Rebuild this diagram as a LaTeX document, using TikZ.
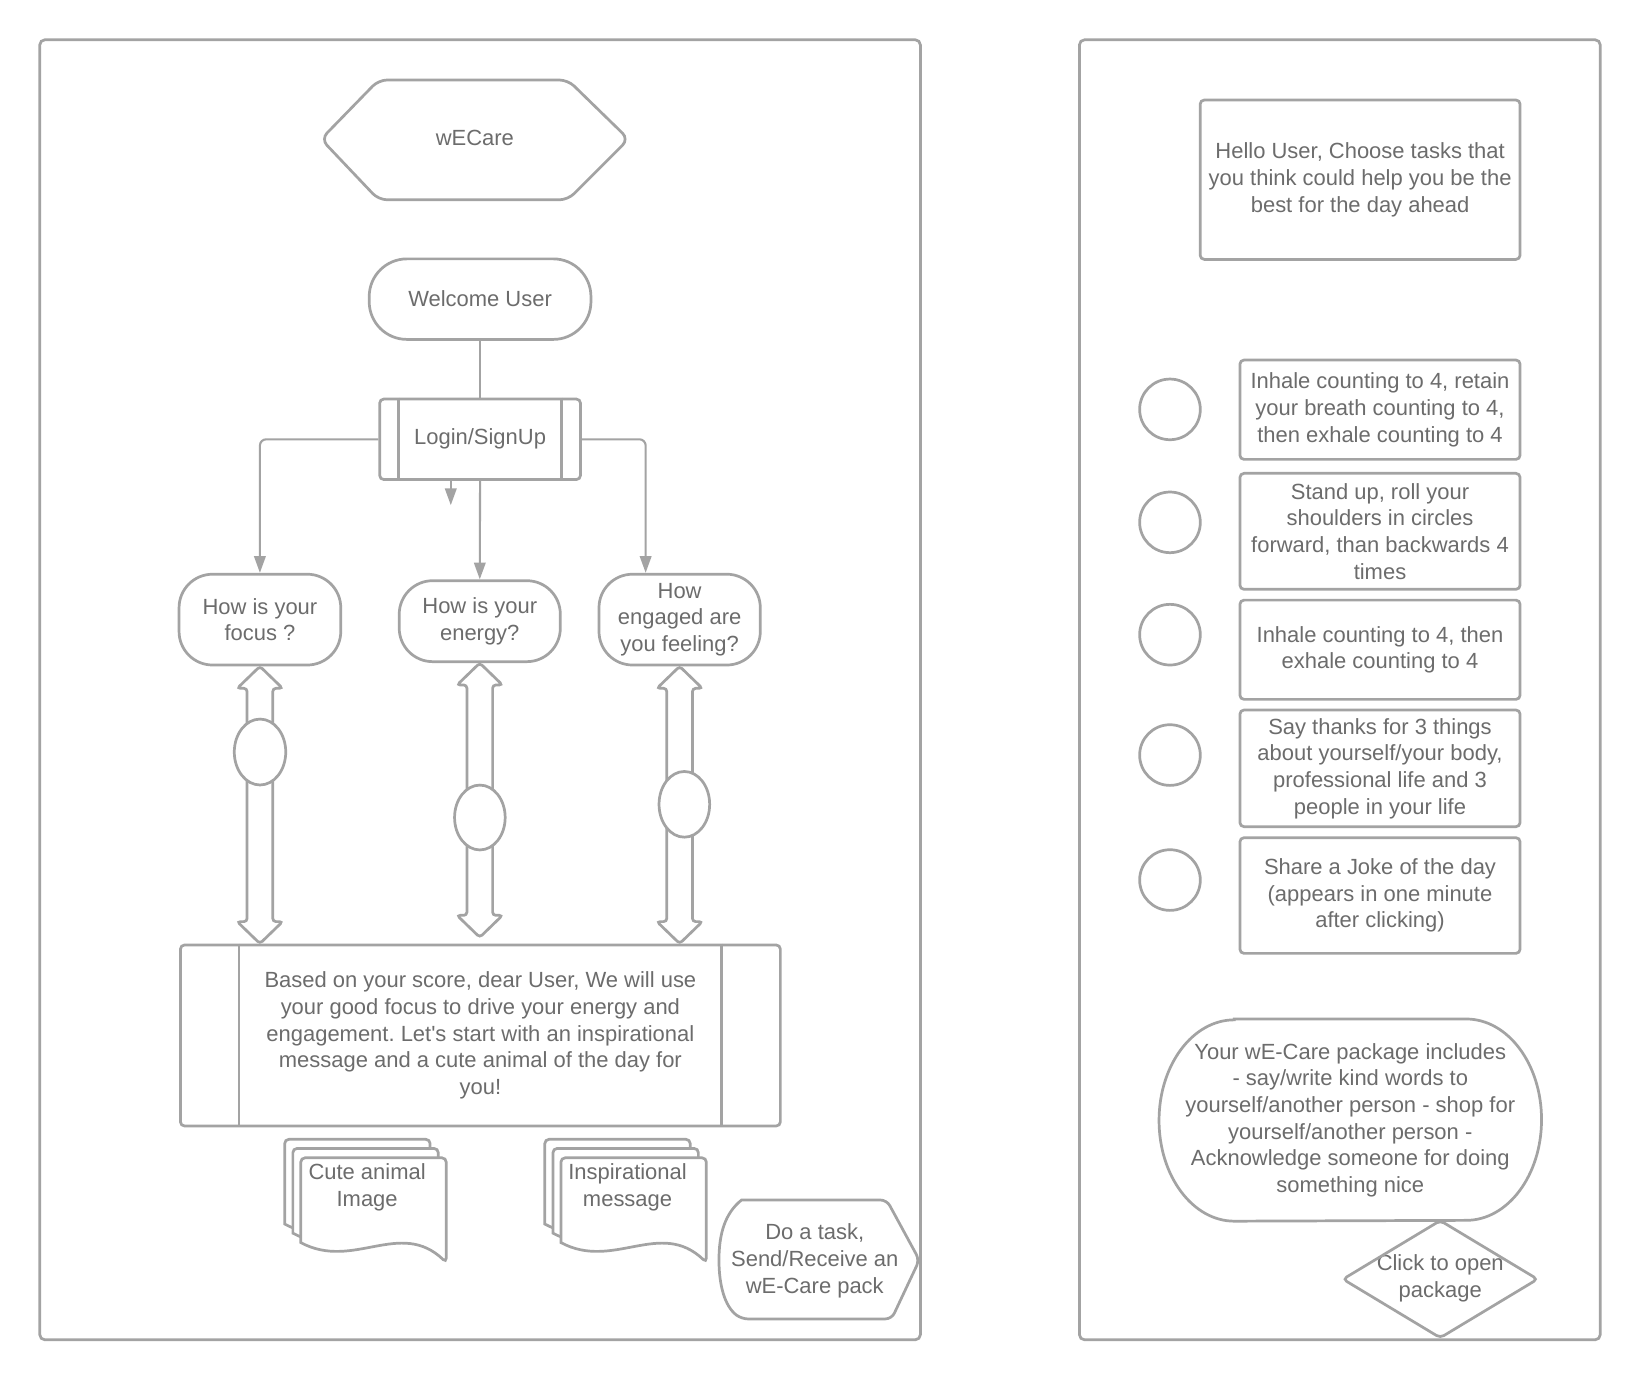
\documentclass[tikz,border=0pt]{standalone}
\usepackage{fontspec}
\setmainfont{Liberation Sans}
\usetikzlibrary{arrows.meta,calc,shapes.geometric}
\definecolor{lgray}{RGB}{163,163,163}
\definecolor{tgray}{RGB}{108,108,108}
\frenchspacing
\tikzset{
  shp/.style={draw=lgray, line width=1.3pt, fill=white},
  shpnf/.style={draw=lgray, line width=1.3pt},
  conn/.style={draw=lgray, line width=1pt, -{Triangle[length=8pt,width=5.5pt]}},
  plainline/.style={draw=lgray, line width=1pt},
  txt/.style={text=tgray, font=\fontsize{10.5}{12.75}\selectfont, align=center, inner sep=0pt},
  box/.style={shp, txt, rounded corners=2pt},
}
\newcommand\dbarrow[2]{%
  \draw[shp, rounded corners=1.5pt] let \p1=(#1), \p2=(#2) in
  (\x1,\y1) -- ({\x1+10.85pt},{\y1-10.5pt}) -- ({\x1+6.15pt},{\y1-10.5pt})
  -- ({\x1+6.15pt},{\y2+10.5pt}) -- ({\x1+10.85pt},{\y2+10.5pt}) -- (\x1,\y2)
  -- ({\x1-10.85pt},{\y2+10.5pt}) -- ({\x1-6.15pt},{\y2+10.5pt})
  -- ({\x1-6.15pt},{\y1-10.5pt}) -- ({\x1-10.85pt},{\y1-10.5pt}) -- cycle;}
\newcommand\docshape[2]{%
  \draw[shp, rounded corners=2pt] ({#1},{#2+81}) -- ({#1},{#2}) -- ({#1+139},{#2})
  -- ({#1+139},{#2+100}) [sharp corners] .. controls ({#1+95},{#2+58}) and ({#1+50},{#2+108}) .. ({#1},{#2+81}) -- cycle;}
\begin{document}
\begin{tikzpicture}[x=0.5pt,y=-0.5pt]
\useasboundingbox (0,0) rectangle (1568,1319);
\fill[white] (0,0) rectangle (1568,1319);

% panels
\node[shp, rounded corners=2.5pt, minimum width=421pt, minimum height=621.5pt, inner sep=0pt] (lpanel) at (459,659.5) {};
\node[shp, rounded corners=2.5pt, minimum width=249pt, minimum height=621.5pt, inner sep=0pt] (rpanel) at (1281,659.5) {};

% title hexagon
\node[txt] (brand) at (454,132) {wECare};
\draw[shpnf, rounded corners=4pt] (307,133) -- (362,76.5) -- (543,76.5) -- (601,133) -- (543,191) -- (362,191) -- cycle;

% welcome and login
\node[box, rounded corners=18pt, minimum width=106pt, minimum height=38.5pt] (welcome) at (459,286) {Welcome User};
\node[box, minimum width=96pt, minimum height=38.5pt] (login) at (459,420) {Login/SignUp};
\draw[shpnf] ([xshift=9.6pt]login.north west) -- ([xshift=9.6pt]login.south west);
\draw[shpnf] ([xshift=-9.6pt]login.north east) -- ([xshift=-9.6pt]login.south east);
\draw[plainline] (welcome) -- (login);

% questions
\node[box, rounded corners=16pt, minimum width=77.3pt, minimum height=43.4pt] (focus) at (248.5,592.4) {How is your\\focus ?};
\node[box, rounded corners=16pt, minimum width=77pt, minimum height=38.7pt] (energy) at (458.7,593.9) {How is your\\energy?};
\node[box, rounded corners=16pt, minimum width=77.1pt, minimum height=43.4pt] (engaged) at (649.8,592.4) {How\\engaged are\\you feeling?};

\draw[conn, rounded corners=3pt] (login.west) -| (focus.north);
\draw[conn, rounded corners=3pt] (login.east) -| ($(engaged.north)+(-32.5,0)$);
\draw[conn] (login.south) -- (energy.north);
\coordinate (strayend) at (431,483);
\draw[conn] (login.south -| strayend) -- (strayend);

% score box
\node[box, minimum width=286.8pt, minimum height=86.55pt] (score) at (459.3,990) {Based on your score, dear User, We will use\\your good focus to drive your energy and\\engagement. Let\textquotesingle s start with an inspirational\\message and a cute animal of the day for\\you!};
\draw[shpnf] ([xshift=28.7pt]score.north west) -- ([xshift=28.7pt]score.south west);
\draw[shpnf] ([xshift=-28.7pt]score.north east) -- ([xshift=-28.7pt]score.south east);

% double arrows with sliders
\dbarrow{focus.south}{score.north -| focus.south}
\dbarrow{energy.south}{$(score.north -| energy.south)+(0,-6)$}
\dbarrow{engaged.south}{score.north -| engaged.south}
\node[shp, ellipse, minimum width=24.6pt, minimum height=31.5pt, inner sep=0pt] (dot1) at (248.6,719) {};
\node[shp, ellipse, minimum width=24.2pt, minimum height=31pt, inner sep=0pt] (dot2) at (458.8,781.6) {};
\node[shp, ellipse, minimum width=24.2pt, minimum height=31.4pt, inner sep=0pt] (dot3) at (654.3,769) {};

% documents
\docshape{272.2}{1089.3}
\docshape{280}{1098}
\docshape{287.6}{1107}
\node[txt] (cute) at (351,1135) {Cute animal\\Image};
\docshape{520.9}{1089.3}
\docshape{528.7}{1098}
\docshape{536.3}{1107}
\node[txt] (inspire) at (600,1135) {Inspirational\\message};

% do a task display shape
\node[txt] (task) at (779,1205.5) {Do a task,\\Send/Receive an\\wE-Care pack};
\draw[shpnf, rounded corners=3pt] (709,1147.3) -- (847.8,1147.3) -- (879,1204.7) -- (852.5,1261) -- (709,1261)
  [sharp corners] .. controls (693,1249) and (687.4,1229) .. (687.4,1204.7)
  .. controls (687.4,1180) and (693,1160) .. (709,1147.3) -- cycle;

% right panel
\node[box, minimum width=152.95pt, minimum height=76.2pt] (hello) at (1300.4,171.8) {Hello User, Choose tasks that\\you think could help you be the\\best for the day ahead};

\node[box, minimum width=133.95pt, minimum height=47.5pt] (t1) at (1319.4,391.7) {Inhale counting to 4, retain\\your breath counting to 4,\\then exhale counting to 4};
\node[box, minimum width=133.95pt, minimum height=55.45pt] (t2) at (1319.4,508) {Stand up, roll your\\shoulders in circles\\forward, than backwards 4\\times};
\node[box, minimum width=133.95pt, minimum height=47.45pt] (t3) at (1319.4,621.2) {Inhale counting to 4, then\\exhale counting to 4};
\node[box, minimum width=133.95pt, minimum height=55.8pt] (t4) at (1319.4,734.6) {Say thanks for 3 things\\about yourself/your body,\\professional life and 3\\people in your life};
\node[box, minimum width=133.95pt, minimum height=55.3pt] (t5) at (1319.4,856.2) {Share a Joke of the day\\(appears in one minute\\after clicking)};

\node[shp, circle, minimum size=29pt, inner sep=0pt] (c1) at (1118.6,391.4) {};
\node[shp, circle, minimum size=29pt, inner sep=0pt] (c2) at (1118.6,499.4) {};
\node[shp, circle, minimum size=29pt, inner sep=0pt] (c3) at (1118.6,606.8) {};
\node[shp, circle, minimum size=29pt, inner sep=0pt] (c4) at (1118.6,721.9) {};
\node[shp, circle, minimum size=29pt, inner sep=0pt] (c5) at (1118.6,841.4) {};

% package
\node[txt, minimum width=182.45pt, minimum height=96.25pt] (pkg) at (1291,1070.9) {Your wE-Care package includes\\- say/write kind words to\\yourself/another person - shop for\\yourself/another person -\\Acknowledge someone for doing\\something nice};
\draw[shpnf] ([xshift=36pt]pkg.north west) -- ([xshift=-36pt]pkg.north east)
  arc[start angle=90, end angle=-90, x radius=36pt, y radius=48.125pt]
  -- ([xshift=36pt]pkg.south west)
  arc[start angle=270, end angle=90, x radius=36pt, y radius=48.125pt] -- cycle;

% diamond
\node[txt] (click) at (1377,1222) {Click to open\\package};
\draw[shpnf, rounded corners=2pt] (1377,1167) -- (1470,1223) -- (1377,1279) -- (1284,1223) -- cycle;
\end{tikzpicture}
\end{document}
